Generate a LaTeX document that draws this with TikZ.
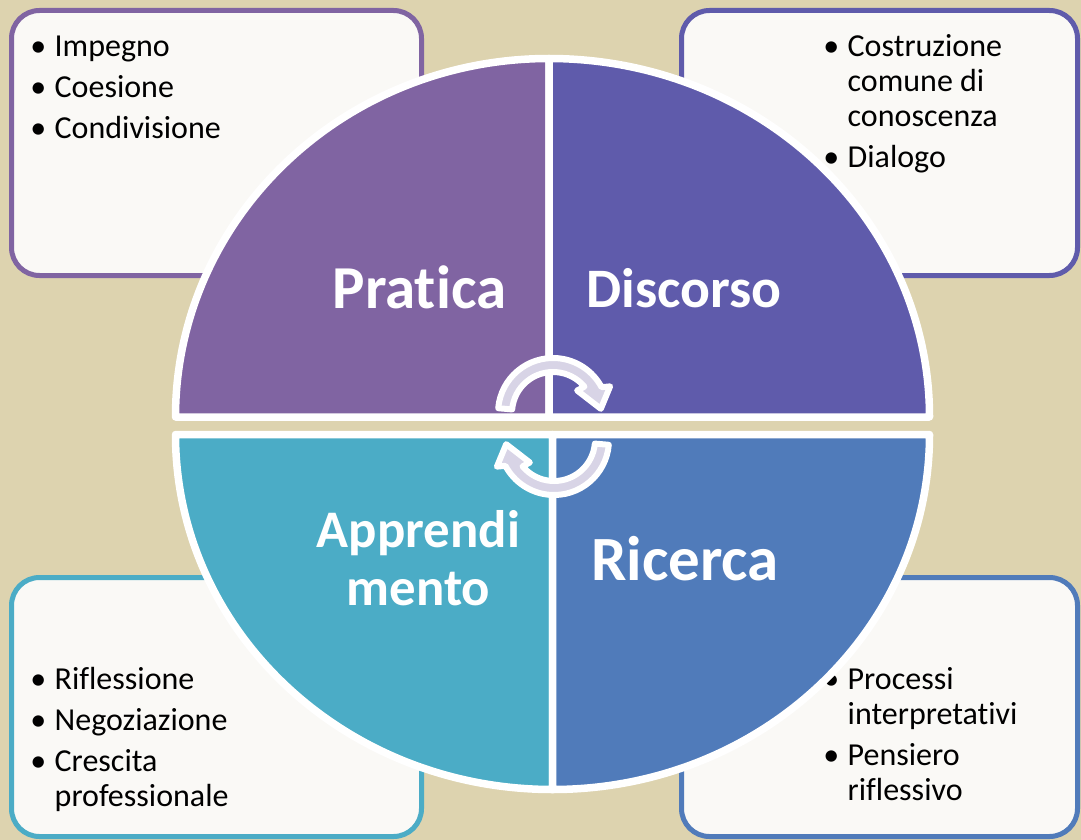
\documentclass[tikz,border=0pt]{standalone}
\usepackage{fontspec}
\setmainfont[Ligatures={NoCommon}]{Carlito}
\usetikzlibrary{shadows}
\definecolor{sand}{RGB}{221,211,175}
\definecolor{paper}{RGB}{250,249,246}
\definecolor{pratica}{RGB}{128,100,162}
\definecolor{discorso}{RGB}{95,91,171}
\definecolor{ricerca}{RGB}{80,123,186}
\definecolor{apprendimento}{RGB}{75,172,198}
\definecolor{lilac}{RGB}{216,212,230}
\newcommand{\bul}{\llap{\textbullet\hspace{8.5pt}}}
\tikzset{
  infobox/.style={rectangle, rounded corners=28pt, line width=5pt, fill=paper,
                  inner sep=0pt, outer sep=0pt, anchor=north west},
  bullets/.style={anchor=base west, inner sep=0pt, font=\fontsize{32}{35}\selectfont},
  quarter/.style={draw=white, line width=7.5pt, line join=round,
                  drop shadow={shadow xshift=1pt, shadow yshift=-3pt, opacity=0.3}},
  title/.style={anchor=base, inner sep=0pt, text=white},
  cyclearrow/.style={fill=lilac, draw=white, line width=6pt, line join=round},
}

\begin{document}
\begin{tikzpicture}[x=1pt, y=-1pt]
  \useasboundingbox (0,0) rectangle (1081,840);
  \fill[sand] (0,0) rectangle (1081,840);

  % boxes behind the circle
  \node[infobox, draw=pratica, minimum width=410, minimum height=265] (boxPratica) at (11.5,10.5) {};
  \node[infobox, draw=discorso, minimum width=396, minimum height=265] (boxDiscorso) at (681.5,10.5) {};
  \node[infobox, draw=apprendimento, minimum width=410, minimum height=259] (boxApprendimento) at (11.5,577.5) {};
  \node[infobox, draw=ricerca, minimum width=396, minimum height=259] (boxRicerca) at (681.5,577.5) {};

  \node[bullets] (listPratica) at (54.5,57) {\begin{tabular}[t]{@{}l@{}}
    \bul Impegno\\[6pt] \bul Coesione\\[6pt] \bul Condivisione\end{tabular}};
  \node[bullets] (listDiscorso) at (847.5,57) {\begin{tabular}[t]{@{}l@{}}
    \bul Costruzione\\ comune di\\ conoscenza\\[6pt] \bul Dialogo\end{tabular}};
  \node[bullets] (listApprendimento) at (54.5,689) {\begin{tabular}[t]{@{}l@{}}
    \bul Riflessione\\[6pt] \bul Negoziazione\\[6pt] \bul Crescita\\ professionale\end{tabular}};
  \node[bullets] (listRicerca) at (847.5,689) {\begin{tabular}[t]{@{}l@{}}
    \bul Processi\\ interpretativi\\[6pt] \bul Pensiero\\ riflessivo\end{tabular}};

  % the four quarters
  \path[quarter, fill=pratica] (549,417) -- (175.5,417)
    arc[start angle=180, end angle=270, x radius=373.5, y radius=358.5] -- cycle;
  \path[quarter, fill=discorso] (549,417) -- (549,58.5)
    arc[start angle=270, end angle=360, x radius=380.5, y radius=358.5] -- cycle;
  \path[quarter, fill=apprendimento] (552.5,434.5) -- (175.5,434.5)
    arc[start angle=180, end angle=90, x radius=377, y radius=355] -- cycle;
  \path[quarter, fill=ricerca] (552.5,434.5) -- (552.5,789.5)
    arc[start angle=90, end angle=0, x radius=377, y radius=355] -- cycle;

  \node[title, font=\fontsize{61}{64}\selectfont\bfseries] (pratica) at (419.5,308) {Pratica};
  \node[title, font=\fontsize{55.7}{60}\selectfont\bfseries] (discorso) at (684,307) {Discorso};
  \node[title, font=\fontsize{52.8}{58}\selectfont\bfseries] (apprendimento) at (418.5,547)
    {\begin{tabular}[t]{@{}c@{}}Apprendi\\ mento\end{tabular}};
  \node[title, font=\fontsize{63}{66}\selectfont\bfseries] (ricerca) at (685,580) {Ricerca};

  % cycle arrows
  \path[cyclearrow, shift={(553,413)}] (-175:55) arc[start angle=-175, end angle=-28, radius=55]
    -- (-25:63) -- (-5:48) -- (-43:33) -- (-40:41) arc[start angle=-40, end angle=-175, radius=41] -- cycle;
  \path[cyclearrow, shift={(554,440)}, rotate=180] (-175:55) arc[start angle=-175, end angle=-28, radius=55]
    -- (-25:63) -- (-5:48) -- (-43:33) -- (-40:41) arc[start angle=-40, end angle=-175, radius=41] -- cycle;
\end{tikzpicture}
\end{document}
